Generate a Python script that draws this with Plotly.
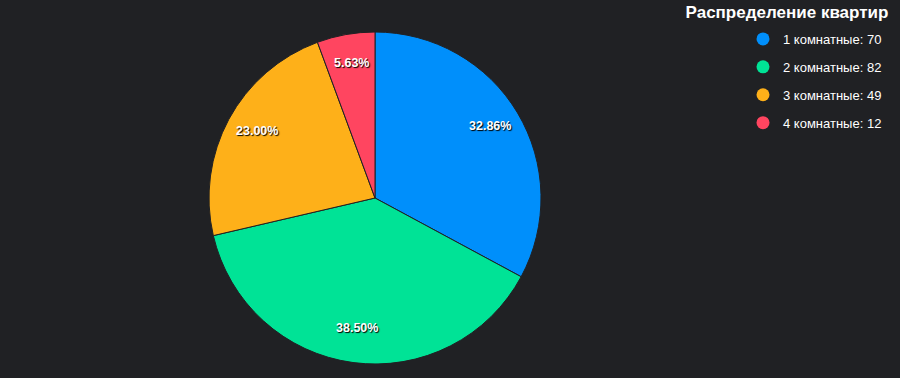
import math
import plotly.graph_objects as go

categories = ["1 комнатные", "2 комнатные", "3 комнатные", "4 комнатные"]
counts = [70, 82, 49, 12]
colors = ["#008FFB", "#00E396", "#FEB019", "#FF4560"]
title_text = "Распределение квартир"

W, H = 900, 378
BG = "#202124"
CX, CY, R = 375, 198, 166

fig = go.Figure()
fig.add_trace(go.Pie(
    labels=categories,
    values=counts,
    sort=False,
    direction="clockwise",
    rotation=0,
    marker=dict(colors=colors, line=dict(color=BG, width=1)),
    textinfo="none",
    showlegend=False,
    hoverinfo="label+value+percent",
    domain=dict(x=[(CX - R) / W, (CX + R) / W], y=[1 - (CY + R) / H, 1 - (CY - R) / H]),
))

# legend entries with circular markers
for i, (cat, n, col) in enumerate(zip(categories, counts, colors)):
    fig.add_trace(go.Scatter(
        x=[None], y=[None], mode="markers",
        marker=dict(symbol="circle", size=13, color=col),
        name=f"{cat}: {n}", legendgroup=f"g{i}", showlegend=True,
    ))

# percentage labels placed along each slice's bisector
total = sum(counts)
annotations = []
cum = 0
for n in counts:
    frac = n / total
    theta = 2 * math.pi * (cum + frac / 2)
    cum += frac
    rr = 0.81 * R
    px = CX + rr * math.sin(theta)
    py = CY - rr * math.cos(theta)
    annotations.append(dict(
        x=px / W, y=1 - py / H, xref="paper", yref="paper", yshift=3,
        xanchor="center", yanchor="middle",
        text=f"{frac * 100:.2f}%", showarrow=False,
        font=dict(family="Liberation Sans", size=12.5, color="white",
                  weight="bold", shadow="1px 1px 1px #000"),
    ))

fig.update_layout(
    width=W, height=H,
    margin=dict(l=0, r=0, t=0, b=0),
    paper_bgcolor=BG, plot_bgcolor=BG,
    xaxis=dict(visible=False), yaxis=dict(visible=False),
    title=dict(text=title_text, x=787 / W, xanchor="center", y=1 - 12 / H, yanchor="middle",
               font=dict(family="Liberation Sans", size=17, color="white", weight="bold")),
    legend=dict(x=743 / W, xanchor="left", y=1 - 24 / H, yanchor="top",
                font=dict(family="Liberation Sans", size=13, color="white"),
                bgcolor="rgba(0,0,0,0)", tracegroupgap=8, itemwidth=30),
    annotations=annotations,
)

fig.write_html(
    "out.html",
    config={"displayModeBar": False},
    post_script="document.body.style.margin='0';document.body.style.overflow='hidden';"
                "document.body.style.background='" + BG + "';",
)
